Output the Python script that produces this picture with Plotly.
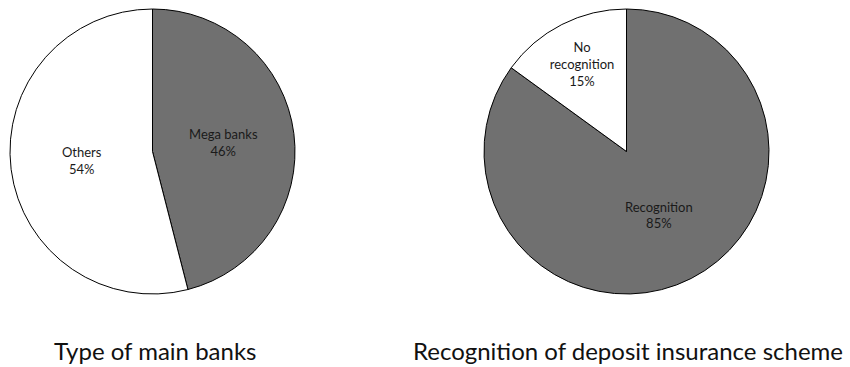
import plotly.graph_objects as go

W, H = 850, 367

bank_labels = ["Mega banks", "Others"]
bank_text = ["Mega banks", "Others"]
bank_values = [46, 54]

dis_labels = ["Recognition", "No recognition"]
dis_text = ["Recognition", "No<br>recognition"]
dis_values = [85, 15]

slice_colors = ["#707070", "#ffffff"]

titles = ["Type of main banks", "Recognition of deposit insurance scheme"]

FONT = "Lato, 'Open Sans', sans-serif"

def px_dom(x0, x1, y0, y1):
    return dict(x=[x0 / W, x1 / W], y=[1 - y1 / H, 1 - y0 / H])

fig = go.Figure()
fig.add_trace(go.Pie(
    labels=bank_labels, values=bank_values, text=bank_text,
    texttemplate="%{text}<br>%{percent}", textposition="inside",
    insidetextorientation="horizontal",
    sort=False, direction="clockwise", rotation=0,
    marker=dict(colors=slice_colors, line=dict(color="#000000", width=1)),
    insidetextfont=dict(family=FONT, size=13, color="#1a1a1a"),
    domain=px_dom(10, 295, 9, 294), showlegend=False, hoverinfo="label+percent",
))
fig.add_trace(go.Pie(
    labels=dis_labels, values=dis_values, text=dis_text,
    texttemplate="%{text}<br>%{percent}", textposition="inside",
    insidetextorientation="horizontal",
    sort=False, direction="clockwise", rotation=0,
    marker=dict(colors=slice_colors, line=dict(color="#000000", width=1)),
    insidetextfont=dict(family=FONT, size=13, color="#1a1a1a"),
    domain=px_dom(484, 769, 9, 294), showlegend=False, hoverinfo="label+percent",
))

for t, xc in zip(titles, [155, 627.5]):
    fig.add_annotation(text=t, x=xc / W, y=1 - 350 / H, xref="paper", yref="paper",
                       xanchor="center", yanchor="middle", showarrow=False,
                       font=dict(family=FONT, size=24, color="#111111"))

fig.update_layout(width=W, height=H, margin=dict(l=0, r=0, t=0, b=0),
                  paper_bgcolor="white", plot_bgcolor="white",
                  uniformtext=dict(minsize=13, mode="show"))

fig.write_html("out.html")
